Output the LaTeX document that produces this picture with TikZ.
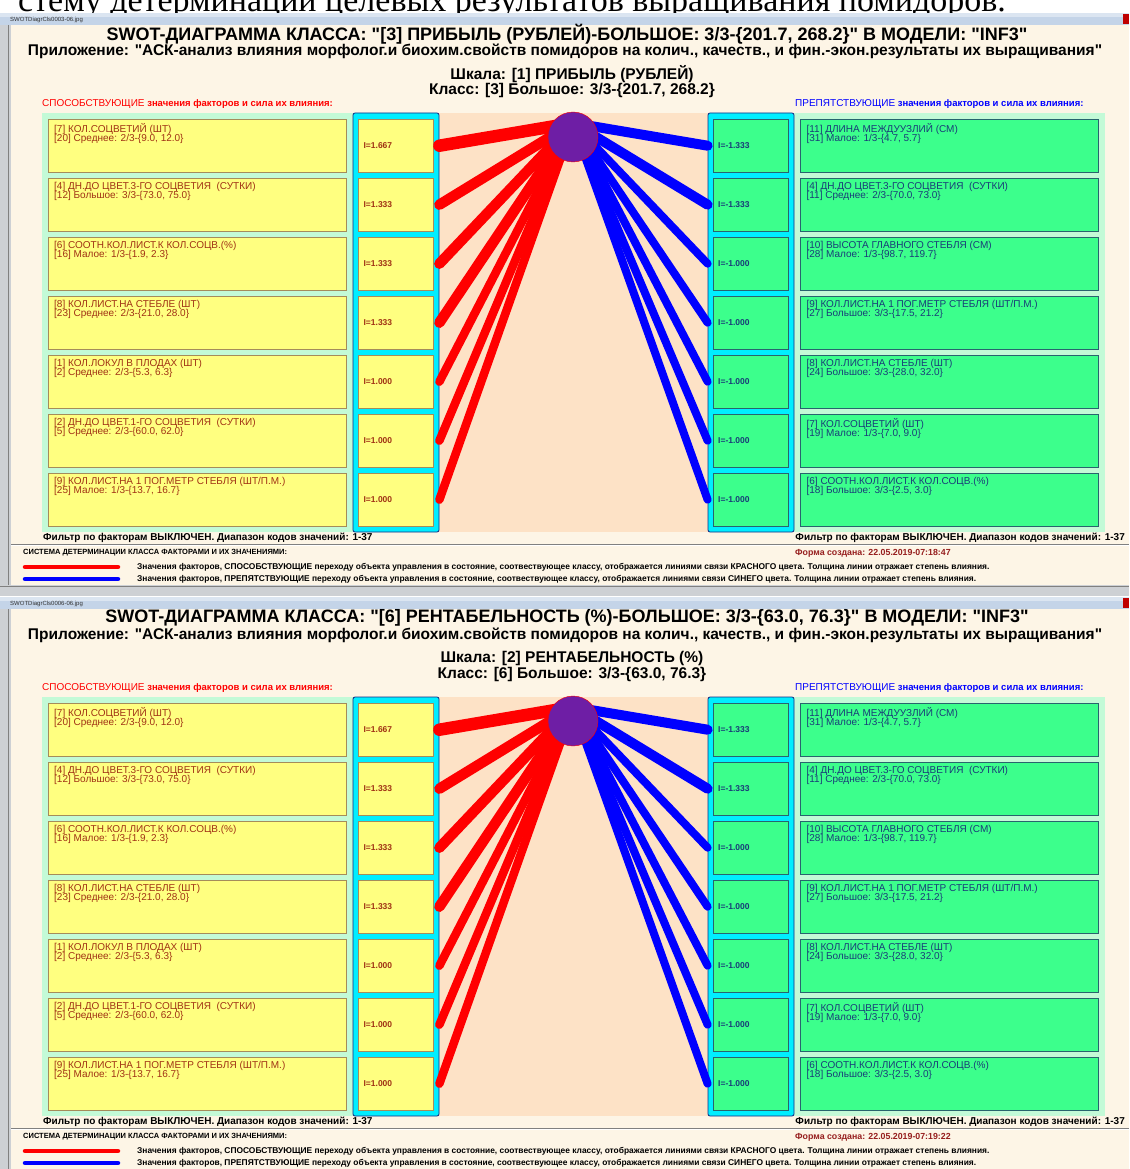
\documentclass[tikz,border=0pt]{standalone}
\usepackage{fontspec}
\setmainfont{Liberation Sans}[Ligatures=TeXOff]
\newfontfamily\docserif{Liberation Serif}
\usetikzlibrary{positioning,calc}

\definecolor{cream}{RGB}{253,245,230}
\definecolor{mint}{RGB}{195,250,215}
\definecolor{lyel}{RGB}{255,255,128}
\definecolor{lbrd}{RGB}{165,140,90}
\definecolor{ltxt}{RGB}{160,50,20}
\definecolor{rgrn}{RGB}{60,255,140}
\definecolor{rbrd}{RGB}{40,100,110}
\definecolor{rtxt}{RGB}{25,60,120}
\definecolor{cyancol}{RGB}{0,238,255}
\definecolor{colbrd}{RGB}{20,40,130}
\definecolor{peach}{RGB}{253,226,198}
\definecolor{hubfill}{RGB}{110,30,165}
\definecolor{barcol}{RGB}{196,212,232}
\definecolor{framegray}{RGB}{205,208,212}
\definecolor{stampred}{RGB}{150,30,30}

\tikzset{line/.style={draw, line cap=round}}

% factor texts
\newcommand{\lfname}[1]{\ifcase#1 \or[7] КОЛ.СОЦВЕТИЙ (ШТ)\or[4] ДН.ДО ЦВЕТ.3-ГО СОЦВЕТИЯ\ \ (СУТКИ)\or[6] СООТН.КОЛ.ЛИСТ.К КОЛ.СОЦВ.(\%)\or[8] КОЛ.ЛИСТ.НА СТЕБЛЕ (ШТ)\or[1] КОЛ.ЛОКУЛ В ПЛОДАХ (ШТ)\or[2] ДН.ДО ЦВЕТ.1-ГО СОЦВЕТИЯ\ \ (СУТКИ)\or[9] КОЛ.ЛИСТ.НА 1 ПОГ.МЕТР СТЕБЛЯ (ШТ/П.М.)\fi}
\newcommand{\lfgrad}[1]{\ifcase#1 \or[20] Среднее: 2/3-\{9.0, 12.0\}\or[12] Большое: 3/3-\{73.0, 75.0\}\or[16] Малое: 1/3-\{1.9, 2.3\}\or[23] Среднее: 2/3-\{21.0, 28.0\}\or[2] Среднее: 2/3-\{5.3, 6.3\}\or[5] Среднее: 2/3-\{60.0, 62.0\}\or[25] Малое: 1/3-\{13.7, 16.7\}\fi}
\newcommand{\rfname}[1]{\ifcase#1 \or[11] ДЛИНА МЕЖДУУЗЛИЙ (СМ)\or[4] ДН.ДО ЦВЕТ.3-ГО СОЦВЕТИЯ\ \ (СУТКИ)\or[10] ВЫСОТА ГЛАВНОГО СТЕБЛЯ (СМ)\or[9] КОЛ.ЛИСТ.НА 1 ПОГ.МЕТР СТЕБЛЯ (ШТ/П.М.)\or[8] КОЛ.ЛИСТ.НА СТЕБЛЕ (ШТ)\or[7] КОЛ.СОЦВЕТИЙ (ШТ)\or[6] СООТН.КОЛ.ЛИСТ.К КОЛ.СОЦВ.(\%)\fi}
\newcommand{\rfgrad}[1]{\ifcase#1 \or[31] Малое: 1/3-\{4.7, 5.7\}\or[11] Среднее: 2/3-\{70.0, 73.0\}\or[28] Малое: 1/3-\{98.7, 119.7\}\or[27] Большое: 3/3-\{17.5, 21.2\}\or[24] Большое: 3/3-\{28.0, 32.0\}\or[19] Малое: 1/3-\{7.0, 9.0\}\or[18] Большое: 3/3-\{2.5, 3.0\}\fi}

% one window: #1 id, #2 y offset, #3 file, #4 class, #5 scale, #6 class line, #7 time
\newcommand{\swotpanel}[7]{%
\begin{scope}[shift={(0,#2)}]
% window
\fill[barcol] (0,13) rectangle (1129,25);
\fill[white, opacity=.4] (0,13) rectangle (1129,17);
\node[barlbl] (fn#1) at (10,19.5) {#3};
\fill[red!75!black] (1123,14) rectangle (1129,24);
\fill[cream] (11,25) rectangle (1129,585);
\fill[framegray] (0,25) rectangle (11,585);
\draw[gray] (8.5,25) -- (8.5,585);
\fill[framegray] (0,585) rectangle (1129,596);
\draw[gray] (0,586.5) -- (1129,586.5);
% headings
\node[ttl] (ttl#1) at (567,34) {SWOT-ДИАГРАММА КЛАССА: "#4" В МОДЕЛИ: "INF3"};
\node[subttl] (app#1) at (565,51) {Приложение: "АСК-анализ влияния морфолог.и биохим.свойств помидоров на колич., качеств., и фин.-экон.результаты их выращивания"};
\node[subttl] (scl#1) at (572,74) {Шкала: #5};
\node[subttl] (kls#1) at (572,90) {Класс: #6};
\node[hdr, text=red] (pro#1) at (42,104) {{\fontsize{10}{10}\selectfont\mdseries СПОСОБСТВУЮЩИЕ} значения факторов и сила их влияния:};
\node[hdr, text=blue] (con#1) at (795,104) {{\fontsize{10}{10}\selectfont\mdseries ПРЕПЯТСТВУЮЩИЕ} значения факторов и сила их влияния:};
% panes
\fill[mint] (42,113) rectangle (353,532);
\fill[mint] (794,113) rectangle (1105,532);
\fill[peach] (439,113) rectangle (708,532);
\node[colbox] (lcol#1) at (396,322.5) {};
\node[colbox] (rcol#1) at (751,322.5) {};
\coordinate (hub#1) at (573,123);
% blocks
\foreach \i/\lr/\lb/\vl/\vr in {1/12.5/10/1.667/-1.333, 2/10.5/10/1.333/-1.333, 3/10.5/8/1.333/-1.000, 4/10.5/8/1.333/-1.000, 5/8.5/8/1.000/-1.000, 6/8.5/8/1.000/-1.000, 7/8.5/8/1.000/-1.000} {
  \node[lbox] (lf#1-\i) at (48,{119+59*(\i-1)}) {};
  \node[libox, right=12pt of lf#1-\i] (li#1-\i) {};
  \node[ftxt, text=ltxt] (lt#1-\i) at ([shift={(6,4)}]lf#1-\i.north west) {\lfname{\i}\\\lfgrad{\i}};
  \node[ival, text=ltxt] (lv#1-\i) at ([xshift=5]li#1-\i.west) {I=\vl};
  \node[ribox] (ri#1-\i) at (713,{119+59*(\i-1)}) {};
  \node[rbox, right=12pt of ri#1-\i] (rf#1-\i) {};
  \node[ftxt, text=rtxt] (rt#1-\i) at ([shift={(6,4)}]rf#1-\i.north west) {\rfname{\i}\\\rfgrad{\i}};
  \node[ival, text=rtxt] (rv#1-\i) at ([xshift=5]ri#1-\i.west) {I=\vr};
  % arrows
  \path[line, red, line width=\lr] (lcol#1.east |- li#1-\i) -- (hub#1);
  \path[line, blue, line width=\lb] (rcol#1.west |- ri#1-\i) -- (hub#1);
}
\node[hubc] (ctr#1) at (573,137) {};
% footer
\node[filt, anchor=west] (fl#1) at (43,538) {Фильтр по факторам ВЫКЛЮЧЕН. Диапазон кодов значений: 1-37};
\node[filt, anchor=east] (fr#1) at (1125,538) {Фильтр по факторам ВЫКЛЮЧЕН. Диапазон кодов значений: 1-37};
\draw[gray] (11,544) -- (1129,544);
\draw[white] (11,545) -- (1129,545);
\node[sysl] (sys#1) at (23,553) {СИСТЕМА ДЕТЕРМИНАЦИИ КЛАССА ФАКТОРАМИ И ИХ ЗНАЧЕНИЯМИ:};
\node[sysl, text=stampred, font=\fontsize{8.8}{10}\selectfont\bfseries] (stm#1) at (795,553) {Форма создана: #7};
\coordinate (ra#1) at (25,567);
\coordinate (rb#1) at (118,567);
\coordinate (ba#1) at (25,579);
\coordinate (bb#1) at (118,579);
\path[line, red, line width=4.5] (ra#1) -- (rb#1);
\path[line, blue, line width=4.5] (ba#1) -- (bb#1);
\node[legtxt] (lr#1) at (137,567) {Значения факторов, СПОСОБСТВУЮЩИЕ переходу объекта управления в состояние, соотвествующее классу, отображается линиями связи КРАСНОГО цвета. Толщина линии отражает степень влияния.};
\node[legtxt] (lb#1) at (137,579) {Значения факторов, ПРЕПЯТСТВУЮЩИЕ переходу объекта управления в состояние, соотвествующее классу, отображается линиями связи СИНЕГО цвета. Толщина линии отражает степень влияния.};
\end{scope}}

\begin{document}
\begin{tikzpicture}[x=1pt, y=-1pt]
\tikzstyle{lbox} = [rectangle, draw=lbrd, fill=lyel, minimum width=298, minimum height=53, inner sep=0, anchor=north west]
\tikzstyle{rbox} = [rectangle, draw=rbrd, fill=rgrn, minimum width=298, minimum height=53, inner sep=0]
\tikzstyle{libox} = [rectangle, draw=lbrd, fill=lyel, minimum width=75, minimum height=53, inner sep=0]
\tikzstyle{ribox} = [rectangle, draw=rbrd, fill=rgrn, minimum width=75, minimum height=53, inner sep=0, anchor=north west]
\tikzstyle{colbox} = [rectangle, rounded corners=2, draw=colbrd, thick, fill=cyancol, minimum width=86, minimum height=419, inner sep=0]
\tikzstyle{hubc} = [circle, draw=red, fill=hubfill, minimum size=50, inner sep=0]
\tikzstyle{ftxt} = [anchor=north west, align=left, inner sep=0, font=\fontsize{10}{9.5}\selectfont]
\tikzstyle{ival} = [anchor=west, inner sep=0, font=\fontsize{8.5}{8.5}\selectfont\bfseries]
\tikzstyle{ttl} = [inner sep=0, font=\fontsize{18}{18}\selectfont\bfseries]
\tikzstyle{subttl} = [inner sep=0, font=\fontsize{15.5}{15.5}\selectfont\bfseries]
\tikzstyle{hdr} = [anchor=west, inner sep=0, font=\fontsize{9.5}{10}\selectfont\bfseries]
\tikzstyle{filt} = [inner sep=0, font=\fontsize{10}{10}\selectfont\bfseries]
\tikzstyle{sysl} = [anchor=west, inner sep=0, font=\fontsize{7.5}{8}\selectfont\bfseries]
\tikzstyle{legtxt} = [anchor=west, inner sep=0, font=\fontsize{8.4}{9}\selectfont\bfseries]
\tikzstyle{barlbl} = [anchor=west, inner sep=0, font=\fontsize{6}{6}\selectfont, text=black!80]
\useasboundingbox (0,0) rectangle (1129,1169);
\fill[white] (0,0) rectangle (1129,1169);
\node[anchor=base west, inner sep=0, text depth=0pt, font=\docserif\fontsize{34}{34}\selectfont] (doc) at (18,12) {стему детерминации целевых результатов выращивания помидоров.};
\swotpanel{a}{0}{SWOTDiagrCls0003-06.jpg}{[3] ПРИБЫЛЬ (РУБЛЕЙ)-БОЛЬШОЕ: 3/3-\{201.7, 268.2\}}{[1] ПРИБЫЛЬ (РУБЛЕЙ)}{[3] Большое: 3/3-\{201.7, 268.2\}}{22.05.2019-07:18:47}
\swotpanel{b}{584}{SWOTDiagrCls0006-06.jpg}{[6] РЕНТАБЕЛЬНОСТЬ (\%)-БОЛЬШОЕ: 3/3-\{63.0, 76.3\}}{[2] РЕНТАБЕЛЬНОСТЬ (\%)}{[6] Большое: 3/3-\{63.0, 76.3\}}{22.05.2019-07:19:22}
\end{tikzpicture}
\end{document}
